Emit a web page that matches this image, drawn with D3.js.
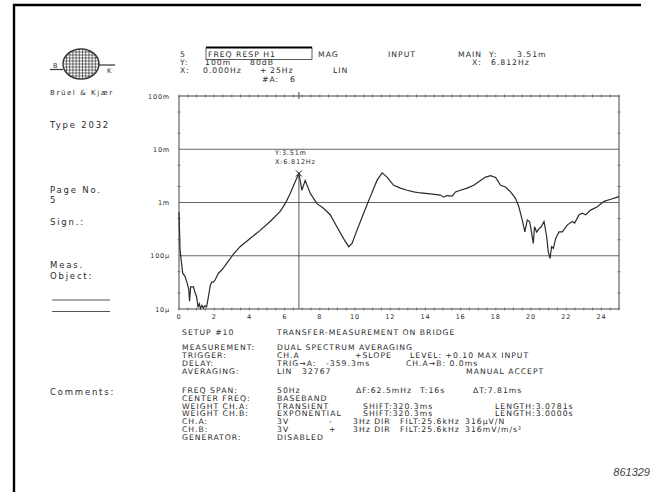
<!DOCTYPE html>
<html>
<head>
<meta charset="utf-8">
<script src="https://cdn.jsdelivr.net/npm/d3@7"></script>
<style>
body { margin: 0; background: #fff; }
svg text { font-family: "DejaVu Sans", sans-serif; fill: #2b2b2b; }
.t { font-size: 7.7px; letter-spacing: 1px; }
.s { font-size: 6.5px; letter-spacing: 0.8px; }
.p { font-size: 8.5px; letter-spacing: 1.8px; }
</style>
</head>
<body>
<svg id="chart" width="656" height="492"></svg>
<script>
// frequency response (Hz / magnitude)
var freqs = [0, 0.06, 0.21, 0.34, 0.47, 0.55, 0.60, 0.66, 0.82, 0.92, 1.0, 1.08, 1.15, 1.22, 1.30, 1.38, 1.47, 1.57, 1.67, 1.78,
  1.86, 1.95, 2.05, 2.24, 2.43, 2.71, 3.09, 3.47, 4.04, 4.61, 5.18, 5.75, 6.03, 6.32, 6.60, 6.812, 6.98, 7.17, 7.46, 7.84,
  8.21, 8.59, 8.97, 9.35, 9.64, 9.83, 10.11, 10.49, 10.87, 11.25, 11.54, 11.82, 12.20, 12.58, 12.96, 13.34, 13.72, 14.29, 14.85, 15.04,
  15.24, 15.52, 15.71, 15.99, 16.37, 16.75, 17.13, 17.42, 17.70, 17.99, 18.27, 18.55, 18.84, 19.12, 19.31, 19.50, 19.65, 19.79, 19.92, 20.00,
  20.13, 20.20, 20.32, 20.45, 20.58, 20.74, 20.89, 20.98, 21.08, 21.17, 21.27, 21.40, 21.59, 21.78, 22.07, 22.35, 22.48, 22.73, 22.92, 23.10,
  23.39, 23.77, 24.15, 24.53, 24.91, 25.0];
var mags = [6.6e-4, 1.29e-4, 4.7e-5, 4.1e-5, 3.0e-5, 2.4e-5, 1.4e-5, 2.6e-5, 2.6e-5, 2.0e-5, 1.7e-5, 1.07e-5, 1.26e-5, 1.02e-5, 1.17e-5, 1.05e-5, 1.15e-5, 1.1e-5, 1.7e-5, 2.8e-5,
  3.2e-5, 3.2e-5, 3.5e-5, 4.7e-5, 5.4e-5, 7.2e-5, 1.07e-4, 1.48e-4, 2.1e-4, 3.0e-4, 4.4e-4, 6.8e-4, 9.5e-4, 1.48e-3, 2.45e-3, 3.51e-3, 1.7e-3, 2.6e-3, 1.48e-3, 9.5e-4,
  7.8e-4, 5.9e-4, 3.5e-4, 2.1e-4, 1.48e-4, 1.7e-4, 3.0e-4, 6.3e-4, 1.29e-3, 2.6e-3, 3.6e-3, 3.0e-3, 2.1e-3, 1.86e-3, 1.7e-3, 1.58e-3, 1.51e-3, 1.45e-3, 1.38e-3, 1.26e-3,
  1.35e-3, 1.32e-3, 1.58e-3, 1.7e-3, 1.86e-3, 2.1e-3, 2.6e-3, 3.0e-3, 3.2e-3, 2.95e-3, 2.1e-3, 1.95e-3, 1.58e-3, 1.2e-3, 8.3e-4, 4.7e-4, 2.8e-4, 4.7e-4, 4.4e-4, 3.2e-4,
  1.7e-4, 3.5e-4, 2.8e-4, 3.2e-4, 3.5e-4, 4.4e-4, 2.3e-4, 1.2e-4, 8.9e-5, 1.48e-4, 1.38e-4, 2.1e-4, 2.8e-4, 2.8e-4, 3.8e-4, 4.4e-4, 4.1e-4, 5.9e-4, 6.3e-4, 5.9e-4,
  7.2e-4, 8.3e-4, 1.05e-3, 1.15e-3, 1.26e-3, 1.29e-3];

var xTicks = [0, 2, 4, 6, 8, 10, 12, 14, 16, 18, 20, 22, 24];
var yTicks = [1e-5, 1e-4, 1e-3, 1e-2, 1e-1];
var yTickLabels = ["10µ", "100µ", "1m", "10m", "100m"];
var cursor = { f: 6.812, v: 3.51e-3 };

var sideLabels = ["Type 2032", "Page No.", "5", "Sign.:", "Meas.", "Object:", "Comments:"];
var headRows = [
  ["5", "FREQ RESP H1", "MAG", "INPUT", "MAIN", "Y:", "3.51m"],
  ["Y:", "100m", "80dB", "X:", "6.812Hz"],
  ["X:", "0.000Hz", "+", "25Hz", "LIN"],
  ["#A:", "6"]
];
var setupTitle = ["SETUP #10", "TRANSFER-MEASUREMENT ON BRIDGE"];
var setupA = [
  ["MEASUREMENT:", "DUAL SPECTRUM AVERAGING"],
  ["TRIGGER:", "CH.A", "+SLOPE", "LEVEL: +0.10 MAX INPUT"],
  ["DELAY:", "TRIG→A:", "-359.3ms", "CH.A→B: 0.0ms"],
  ["AVERAGING:", "LIN", "32767", "MANUAL ACCEPT"]
];
var setupB = [
  ["FREQ SPAN:", "50Hz", "ΔF:62.5mHz", "T:16s", "ΔT:7.81ms"],
  ["CENTER FREQ:", "BASEBAND"],
  ["WEIGHT CH.A:", "TRANSIENT", "SHIFT:320.3ms", "LENGTH:3.0781s"],
  ["WEIGHT CH.B:", "EXPONENTIAL", "SHIFT:320.3ms", "LENGTH:3.0000s"],
  ["CH.A:", "3V", "-", "3Hz DIR", "FILT:25.6kHz", "316µV/N"],
  ["CH.B:", "3V", "+", "3Hz DIR", "FILT:25.6kHz", "316mV/m/s²"],
  ["GENERATOR:", "DISABLED"]
];

var svg = d3.select("#chart");
var ink = "#333";

// page frame (only the top and left edge are on the scan)
svg.append("path").attr("d", "M14,492V5H641").attr("fill", "none").attr("stroke", "#000").attr("stroke-width", 2.4);

// B&K logo
var logo = svg.append("g").attr("stroke", ink).attr("fill", "none").attr("stroke-width", 0.7);
var cx = 81, cy = 64, rx = 18, ry = 15;
svg.append("clipPath").attr("id", "globe").append("ellipse").attr("cx", cx).attr("cy", cy).attr("rx", rx).attr("ry", ry);
var grid = logo.append("g").attr("clip-path", "url(#globe)");
d3.range(-ry + 3, ry, 3).forEach(function (d) {
  grid.append("line").attr("x1", cx - rx).attr("x2", cx + rx).attr("y1", cy + d).attr("y2", cy + d);
});
d3.range(-rx + 3.5, rx, 3.2).forEach(function (d) {
  grid.append("line").attr("x1", cx + d).attr("x2", cx + d).attr("y1", cy - ry).attr("y2", cy + ry);
});
logo.append("ellipse").attr("cx", cx).attr("cy", cy).attr("rx", rx).attr("ry", ry).attr("stroke-width", 1.4);
logo.append("line").attr("x1", 50).attr("x2", cx - rx).attr("y1", 69.5).attr("y2", 69.5).attr("stroke-width", 1.2);
logo.append("line").attr("x1", cx + rx).attr("x2", 115).attr("y1", 65).attr("y2", 65).attr("stroke-width", 1.2);
svg.append("text").attr("class", "s").attr("x", 53).attr("y", 67.5).text("B");
svg.append("text").attr("class", "s").attr("x", 107).attr("y", 73).text("K");
svg.append("text").attr("x", 50).attr("y", 95).style("font-size", "7px").style("letter-spacing", "1.6px").text("Brüel & Kjær");

// left column
var sideY = [128, 193, 203, 225, 268, 279, 395];
sideLabels.forEach(function (s, i) {
  svg.append("text").attr("class", "p").attr("x", 50).attr("y", sideY[i]).text(s);
});
[300, 311.5].forEach(function (yy) {
  svg.append("line").attr("x1", 52).attr("x2", 110).attr("y1", yy).attr("y2", yy).attr("stroke", "#555");
});

// header block
var headX = [[180, 208, 318, 388, 458, 489, 517], [180, 205, 250, 472, 491], [180, 203, 260, 270, 333], [262, 290]];
var headY = [57, 64.5, 73, 81.5];
headRows.forEach(function (r, i) {
  r.forEach(function (s, j) {
    svg.append("text").attr("class", "t").attr("x", headX[i][j]).attr("y", headY[i]).text(s);
  });
});
svg.append("line").attr("x1", 206).attr("x2", 312).attr("y1", 47.5).attr("y2", 47.5).attr("stroke", "#000").attr("stroke-width", 2);
svg.append("path").attr("d", "M206,47.5V59.5H312V47.5").attr("fill", "none").attr("stroke", ink).attr("stroke-width", 0.8);

// plot
var x = d3.scaleLinear().domain([0, 25]).range([179, 619]);
var y = d3.scaleLog().domain([1e-5, 1e-1]).range([309, 96]);

var plot = svg.append("g");
yTicks.slice(1, -1).forEach(function (v) {
  plot.append("line").attr("x1", x(0)).attr("x2", x(25)).attr("y1", y(v)).attr("y2", y(v))
    .attr("stroke", "#555").attr("stroke-width", 0.9);
});
plot.append("rect").attr("x", x(0)).attr("y", y(1e-1)).attr("width", x(25) - x(0)).attr("height", y(1e-5) - y(1e-1))
  .attr("fill", "none").attr("stroke", "#444").attr("stroke-width", 1);

// minor ticks, 0.5 Hz along top and bottom
var xMinor = d3.range(0, 25.01, 0.5);
[y(1e-5), y(1e-1)].forEach(function (yy) {
  plot.selectAll(null).data(xMinor).enter().append("line")
    .attr("x1", function (d) { return x(d); }).attr("x2", function (d) { return x(d); })
    .attr("y1", yy - 1.5).attr("y2", yy + 1.5).attr("stroke", "#555").attr("stroke-width", 0.7);
});
// 2 and 5 ticks along both sides
var yMinor = [];
yTicks.slice(0, -1).forEach(function (v) { yMinor.push(2 * v, 5 * v); });
[x(0), x(25)].forEach(function (xx) {
  plot.selectAll(null).data(yMinor).enter().append("line")
    .attr("x1", xx - 1.5).attr("x2", xx + 1.5)
    .attr("y1", function (d) { return y(d); }).attr("y2", function (d) { return y(d); })
    .attr("stroke", "#555").attr("stroke-width", 0.7);
});

plot.selectAll(null).data(xTicks).enter().append("text").attr("class", "s")
  .attr("x", function (d) { return x(d); }).attr("y", 318.5).attr("text-anchor", "middle").text(function (d) { return d; });
plot.selectAll(null).data(yTicks).enter().append("text").attr("class", "s")
  .attr("x", 170).attr("y", function (d) { return y(d) + 2.5; }).attr("text-anchor", "end")
  .text(function (d, i) { return yTickLabels[i]; });

// response curve
var pts = freqs.map(function (f, i) { return [f, mags[i]]; });
var line = d3.line().x(function (d) { return x(d[0]); }).y(function (d) { return y(d[1]); });
plot.append("path").datum(pts).attr("d", line).attr("fill", "none").attr("stroke", "#2a2a2a").attr("stroke-width", 1.2);

// cursor
var cxp = x(cursor.f), cyp = y(cursor.v);
plot.append("line").attr("x1", cxp).attr("x2", cxp).attr("y1", cyp).attr("y2", y(1e-5)).attr("stroke", "#444").attr("stroke-width", 0.9);
plot.append("line").attr("x1", cxp).attr("x2", cxp).attr("y1", y(1e-1) - 4).attr("y2", y(1e-1) + 3).attr("stroke", "#444");
plot.append("path").attr("d", "M" + (cxp - 3) + "," + (cyp - 3) + "l6,6m0,-6l-6,6").attr("stroke", "#222").attr("stroke-width", 1);
plot.append("text").attr("class", "s").attr("x", 275).attr("y", 155).text("Y:" + "3.51m");
plot.append("text").attr("class", "s").attr("x", 275).attr("y", 164).text("X:" + "6.812Hz");

// setup printout
var tx = svg.append("g");
tx.append("text").attr("class", "t").attr("x", 182).attr("y", 335).text(setupTitle[0]);
tx.append("text").attr("class", "t").attr("x", 277).attr("y", 335).text(setupTitle[1]);
var aX = [[182, 277], [182, 277, 355, 410], [182, 277, 326, 406], [182, 277, 302, 466]];
setupA.forEach(function (r, i) {
  r.forEach(function (s, j) {
    tx.append("text").attr("class", "t").attr("x", aX[i][j]).attr("y", 350 + i * 8).text(s);
  });
});
var bX = [[182, 277, 356, 420, 473], [182, 277], [182, 277, 363, 495], [182, 277, 363, 495],
  [182, 277, 329, 353, 400, 465], [182, 277, 329, 353, 400, 465], [182, 277]];
setupB.forEach(function (r, i) {
  r.forEach(function (s, j) {
    tx.append("text").attr("class", "t").attr("x", bX[i][j]).attr("y", 393 + i * 7.8).text(s);
  });
});

svg.append("text").attr("x", 650).attr("y", 476).attr("text-anchor", "end")
  .style("font-family", "'Liberation Sans', Arial, sans-serif").style("font-style", "italic")
  .style("font-size", "11px").style("fill", "#444").text("861329");
</script>
</body>
</html>
